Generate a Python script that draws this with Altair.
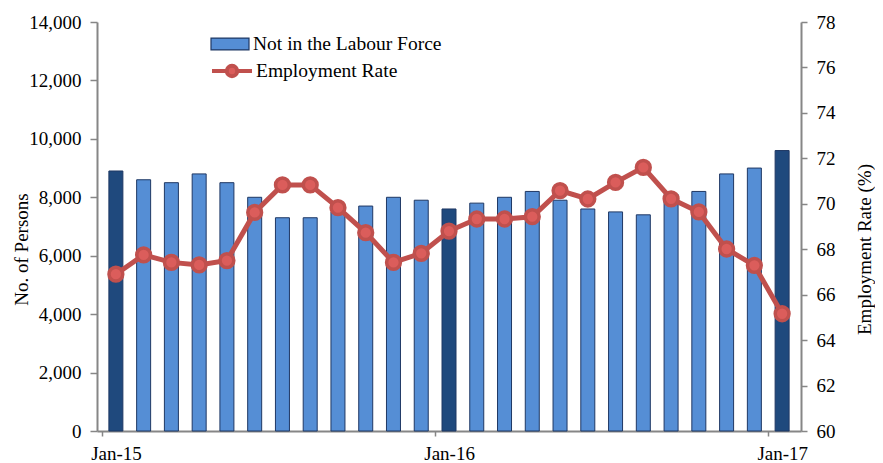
import altair as alt
import pandas as pd

months = ["Jan-15","Feb-15","Mar-15","Apr-15","May-15","Jun-15","Jul-15","Aug-15","Sep-15","Oct-15","Nov-15","Dec-15",
          "Jan-16","Feb-16","Mar-16","Apr-16","May-16","Jun-16","Jul-16","Aug-16","Sep-16","Oct-16","Nov-16","Dec-16","Jan-17"]
not_in_lf = [8900, 8600, 8500, 8800, 8500, 8000, 7300, 7300, 7500, 7700, 8000, 7900,
             7600, 7800, 8000, 8200, 7900, 7600, 7500, 7400, 8100, 8200, 8800, 9000, 9600]
emp_rate = [66.9, 67.75, 67.42, 67.31, 67.5, 69.62, 70.83, 70.83, 69.83, 68.73, 67.42, 67.82,
            68.8, 69.33, 69.33, 69.43, 70.58, 70.21, 70.94, 71.6, 70.22, 69.64, 68.01, 67.29, 65.16]
tick_labels = ["Jan-15", "Jan-16", "Jan-17"]

df = pd.DataFrame({
    "month": months,
    "idx": list(range(len(months))),
    "nilf": not_in_lf,
    "rate": emp_rate,
})
df["pos"] = df["idx"] + 0.5
df["jan"] = df["month"].str.startswith("Jan")
df["s1"] = "Not in the Labour Force"
df["s2"] = "Employment Rate"

FONT = "Liberation Serif"
AX = "#868686"

x_scale = alt.Scale(domain=[0, 25], nice=False, zero=False)
x_axis = alt.Axis(values=[0, 12, 24],
                  labelExpr="datum.value == 0 ? '%s' : datum.value == 12 ? '%s' : '%s'" % tuple(tick_labels),
                  labelOffset=14, tickSize=5, labelPadding=8, title=None, grid=False,
                  domainColor=AX, tickColor=AX, domainWidth=2, tickWidth=1.5,
                  labelFont=FONT, labelFontSize=19, labelColor="black")

bars = alt.Chart(df).mark_bar(size=14, stroke="#1F3864", strokeWidth=1).encode(
    x=alt.X("pos:Q", scale=x_scale, axis=x_axis),
    y=alt.Y("nilf:Q", scale=alt.Scale(domain=[0, 14000], nice=False),
            axis=alt.Axis(values=list(range(0, 14001, 2000)), format=",.0f", title="No. of Persons",
                          tickSize=7, labelPadding=9, grid=False, domainColor=AX, tickColor=AX,
                          domainWidth=2, tickWidth=1.5, labelFont=FONT, labelFontSize=19,
                          labelColor="black", titleFont=FONT, titleFontSize=19, titleFontWeight="normal",
                          titleColor="black", titlePadding=-3, titleY=227)),
    fill=alt.condition(alt.datum.jan, alt.value("#1F497D"),
                       alt.Fill("s1:N", scale=alt.Scale(range=["#558ED5"]),
                                legend=alt.Legend(title=None, orient="none", legendX=113, legendY=2,
                                                  symbolType="M-1,-0.31H1V0.31H-1Z", symbolSize=1444,
                                                  symbolStrokeColor="#1F3864", symbolStrokeWidth=1.2,
                                                  labelFont=FONT, labelFontSize=19.5, labelColor="black",
                                                  labelOffset=3, labelLimit=0, padding=0))),
)

line = alt.Chart(df).mark_line(strokeWidth=5, color="#C0504D",
                               point=alt.OverlayMarkDef(filled=True, fill="#DB5D5B", stroke="#C0504D",
                                                        strokeWidth=3.5, size=190)).encode(
    x=alt.X("pos:Q", scale=x_scale),
    y=alt.Y("rate:Q", scale=alt.Scale(domain=[60, 78], nice=False, zero=False),
            axis=alt.Axis(orient="right", values=list(range(60, 79, 2)), title="Employment  Rate (%)",
                          tickSize=6, labelPadding=9, grid=False, domainColor=AX, tickColor=AX,
                          domainWidth=2, tickWidth=1.5, labelFont=FONT, labelFontSize=19,
                          labelColor="black", titleFont=FONT, titleFontSize=19, titleFontWeight="normal",
                          titleColor="black", titlePadding=20, titleAngle=270, titleBaseline="top",
                          titleY=227)),
    stroke=alt.Stroke("s2:N", scale=alt.Scale(range=["#C0504D"]),
                      legend=alt.Legend(title=None, orient="none", legendX=113, legendY=27,
                                        symbolType="M-1,0H-0.28M0.28,0H1M0.26,0A0.26,0.26 0 1 1 -0.26,0A0.26,0.26 0 1 1 0.26,0",
                                        symbolSize=1600, symbolStrokeWidth=4, symbolFillColor="#DB5D5B",
                                        labelFont=FONT, labelFontSize=19.5, labelColor="black",
                                        labelOffset=2, labelLimit=0, padding=0)),
)

chart = alt.layer(bars, line).resolve_scale(y="independent", fill="independent", stroke="independent").properties(
    width=704, height=409,
    autosize=alt.AutoSizeParams(type="none"),
    padding={"left": 89, "top": 14, "right": 74, "bottom": 32},
).configure(font=FONT).configure_view(stroke=None)

chart.save("out.html", embed_options={"renderer": "svg", "actions": False})
